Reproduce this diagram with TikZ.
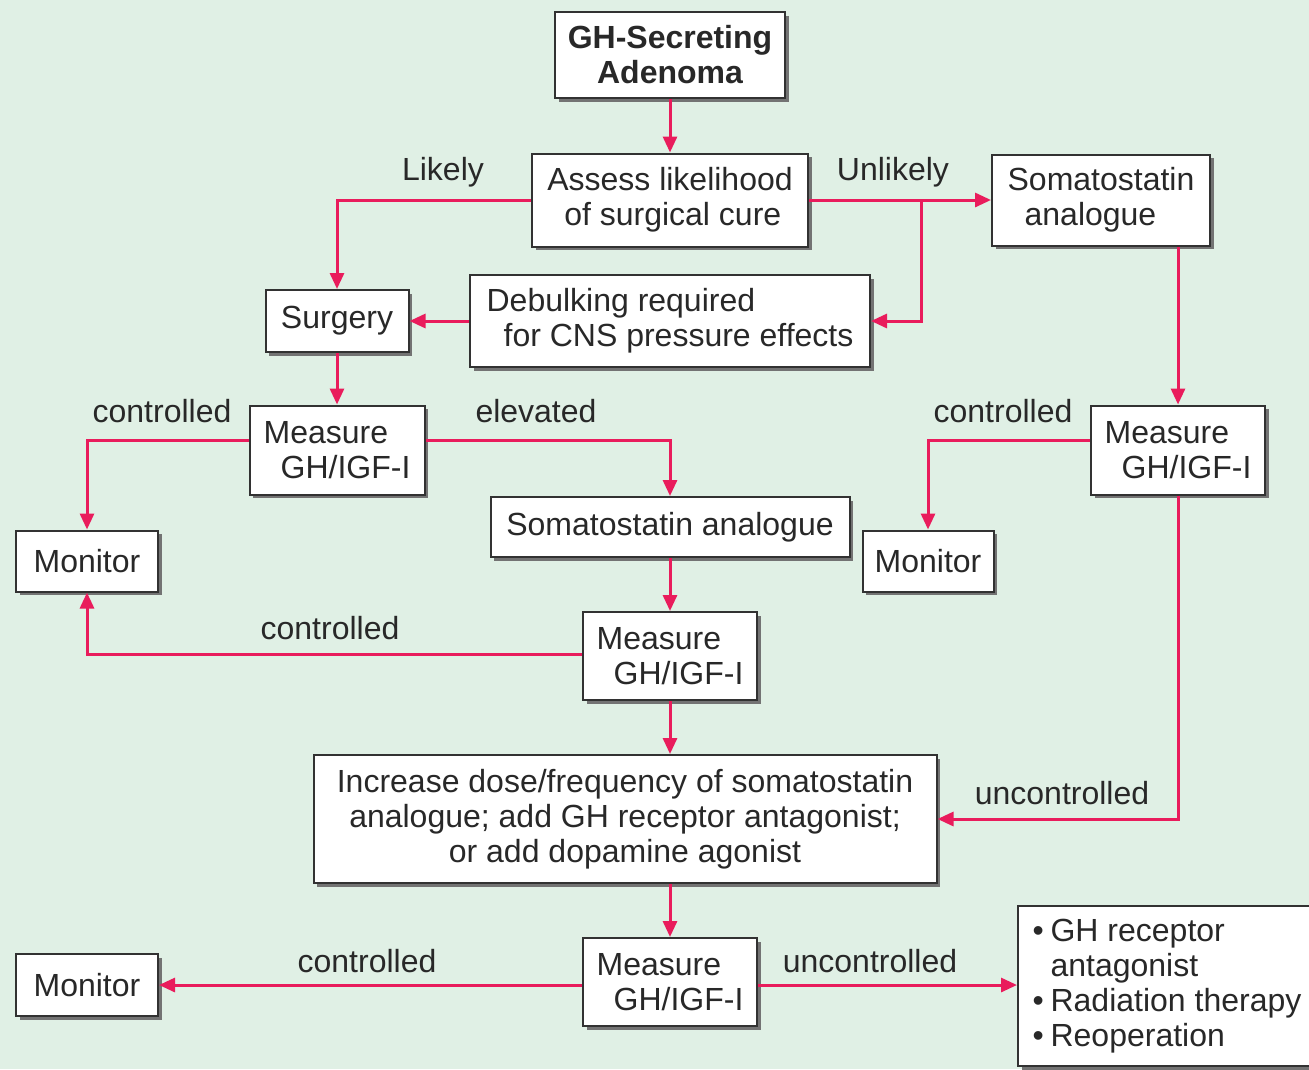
\documentclass[tikz,border=0pt]{standalone}
\usepackage{fontspec}
\setmainfont{Liberation Sans}
\usetikzlibrary{arrows.meta,shadows}
\definecolor{bg}{RGB}{224,240,229}
\definecolor{arr}{RGB}{233,28,92}
\definecolor{bord}{RGB}{50,50,50}
\definecolor{txt}{RGB}{40,40,40}
\newcommand{\ind}{\hspace*{17pt}}
\begin{document}
\begin{tikzpicture}[x=1pt,y=-1pt,
  box/.style={draw=bord,line width=2pt,fill=white,inner sep=0pt,align=left,text=txt,
    font=\fontsize{32}{35}\selectfont,
    drop shadow={shadow xshift=3.5pt,shadow yshift=-3.5pt,fill=black!55,opacity=1}},
  conn/.style={draw=arr,line width=3pt,-{Triangle[length=16pt,width=14pt]}},
  lbl/.style={font=\fontsize{32}{35}\selectfont,inner sep=0pt,text=txt}]
\fill[bg] (0,0) rectangle (1309,1069);
\useasboundingbox (0,0) rectangle (1309,1069);

\node[box,minimum width=230pt,minimum height=86pt,align=center,font=\fontsize{32}{35}\selectfont\bfseries] (gh) at (670,55) {GH-Secreting\\Adenoma};
\node[box,minimum width=276pt,minimum height=93pt] (assess) at (670,200) {Assess likelihood\\\ind of surgical cure};
\node[box,minimum width=218pt,minimum height=91pt] (soma1) at (1101,200) {Somatostatin\\\ind analogue};
\node[box,minimum width=143pt,minimum height=62pt] (surgery) at (337,321) {Surgery};
\node[box,minimum width=400pt,minimum height=92pt] (debulk) at (670,321) {Debulking required\\\ind for CNS pressure effects};
\node[box,minimum width=175pt,minimum height=89pt] (meas1) at (337,450) {Measure\\\ind GH/IGF-I};
\node[box,minimum width=174pt,minimum height=89pt] (meas2) at (1178,450) {Measure\\\ind GH/IGF-I};
\node[box,minimum width=142pt,minimum height=61pt] (mon1) at (87,561) {Monitor};
\node[box,minimum width=359pt,minimum height=60pt] (soma2) at (670,527) {Somatostatin analogue};
\node[box,minimum width=131pt,minimum height=61pt] (mon2) at (928,561) {Monitor};
\node[box,minimum width=174pt,minimum height=88pt] (meas3) at (670,656) {Measure\\\ind GH/IGF-I};
\node[box,minimum width=623pt,minimum height=128pt,align=center] (incr) at (625,819) {Increase dose/frequency of somatostatin\\analogue; add GH receptor antagonist;\\or add dopamine agonist};
\node[box,minimum width=174pt,minimum height=88pt] (meas4) at (670,982) {Measure\\\ind GH/IGF-I};
\node[box,minimum width=142pt,minimum height=62pt] (mon3) at (87,985) {Monitor};
\node[box,minimum width=298pt,minimum height=160pt,anchor=west] (opts) at (1017,986) {%
  \makebox[18pt][l]{\textbullet}GH receptor\\\makebox[18pt][l]{}antagonist\\\makebox[18pt][l]{\textbullet}Radiation therapy\\\makebox[18pt][l]{\textbullet}Reoperation};

\coordinate (br) at (921,200);

\draw[conn] (gh) -- (assess);
\draw[conn] (assess.west) -| (surgery.north);
\draw[conn] (assess.east) -- (soma1.west);
\draw[conn] (br) |- (debulk.east);
\draw[conn] (debulk.west) -- (surgery.east);
\draw[conn] (surgery) -- (meas1);
\draw[conn] ([yshift=10pt]meas1.west) -| (mon1.north);
\draw[conn] ([yshift=10pt]meas1.east) -| (soma2.north);
\draw[conn] (meas2.north |- soma1.south) -- (meas2.north);
\draw[conn] ([yshift=10pt]meas2.west) -| (mon2.north);
\draw[conn] (meas2.south) |- (incr.east);
\draw[conn] (soma2) -- (meas3);
\draw[conn] ([yshift=2pt]meas3.west) -| (mon1.south);
\draw[conn] (meas3.south) -- (meas3.south |- incr.north);
\draw[conn] (incr.south -| meas4.north) -- (meas4.north);
\draw[conn] ([yshift=-3pt]meas4.west) -- (mon3.east);
\draw[conn] ([yshift=-3pt]meas4.east) -- (opts.west |- mon3.east);

\node[lbl] (l1) at (443,172) {Likely};
\node[lbl] (l2) at (893,172) {Unlikely};
\node[lbl] (l3) at (162,411) {controlled};
\node[lbl] (l4) at (536,411) {elevated};
\node[lbl] (l5) at (1003,411) {controlled};
\node[lbl] (l6) at (330,628) {controlled};
\node[lbl] (l7) at (1062,793) {uncontrolled};
\node[lbl] (l8) at (367,961) {controlled};
\node[lbl] (l9) at (870,961) {uncontrolled};
\end{tikzpicture}
\end{document}
